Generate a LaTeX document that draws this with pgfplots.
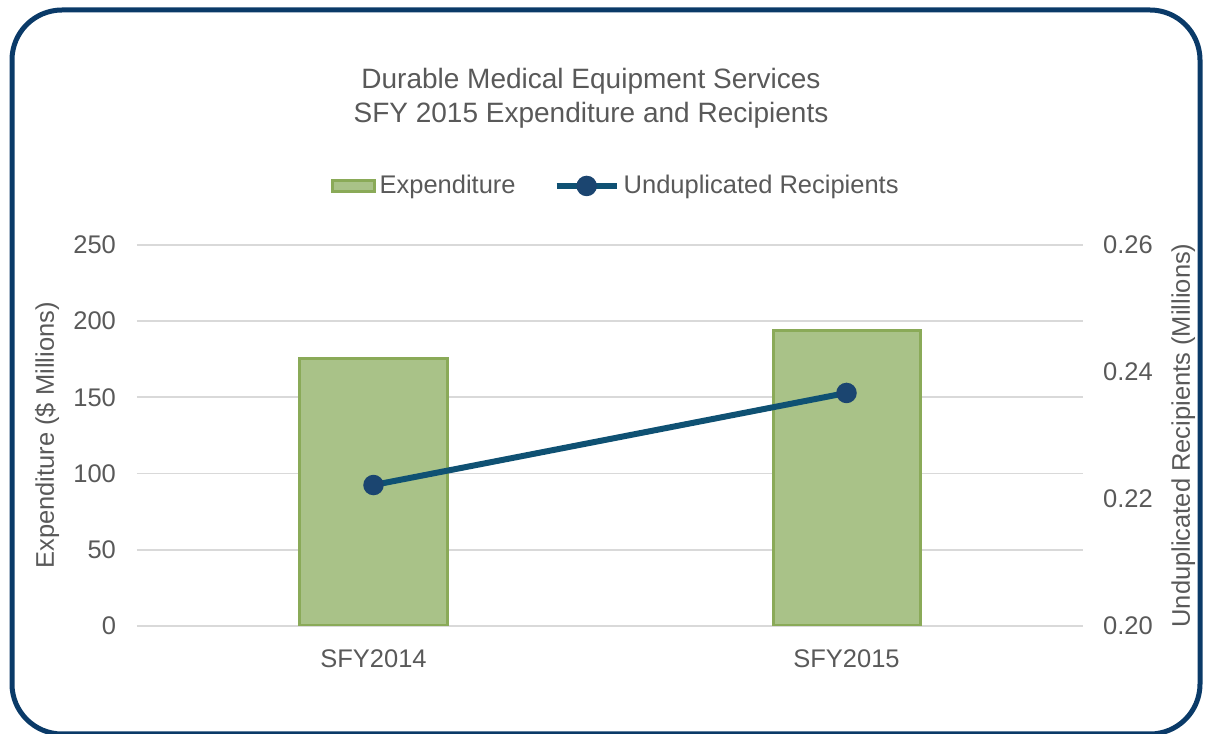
\documentclass[border=0pt]{standalone}
\usepackage{fontspec}
\setmainfont{Liberation Sans}
\usepackage{pgfplots}
\pgfplotsset{compat=1.18}
\definecolor{txt}{HTML}{595959}
\definecolor{gridc}{HTML}{D9D9D9}
\definecolor{barfill}{HTML}{A9C288}
\definecolor{baredge}{HTML}{8AAA58}
\definecolor{linec}{HTML}{0F5173}
\definecolor{markc}{HTML}{1B4570}
\definecolor{framec}{HTML}{0A3A68}
\newcommand{\fs}{\fontsize{12.75}{15}\selectfont}
\newcommand{\ft}{\fontsize{14}{17}\selectfont}
\begin{document}
\begin{tikzpicture}
\useasboundingbox (0pt,0pt) rectangle (603pt,367pt);
\draw[framec, line width=2.5pt, rounded corners=25pt] (6pt,0pt) rectangle (600pt,362pt);
\node[text=txt, font=\ft] at (295.5pt,326.5pt) {Durable Medical Equipment Services};
\node[text=txt, font=\ft] at (295.5pt,309.5pt) {SFY 2015 Expenditure and Recipients};
\begin{axis}[
  at={(68.5pt,54pt)}, anchor=south west,
  width=473pt, height=190.5pt, scale only axis,
  xmin=-0.5, xmax=1.5, ymin=0, ymax=250,
  ytick={0,50,...,250},
  xtick={0,1}, xticklabels={SFY2014,SFY2015},
  axis line style={draw=none},
  tick style={draw=none},
  ymajorgrids, grid style={gridc, line width=0.9pt},
  ticklabel style={font=\fs, text=txt},
  /pgf/number format/assume math mode=true,
  yticklabel style={xshift=-7pt},
  xticklabel style={yshift=-8.5pt},
  ylabel={Expenditure (\$ Millions)},
  ylabel style={at={(rel axis cs:-0.095,0.5)}, anchor=center, font=\fs, text=txt},
]
\addplot[ybar, bar width=73.5pt, bar shift=0pt, fill=barfill, draw=baredge, line width=1.5pt]
  coordinates {(0,175.2) (1,193.6)};
\end{axis}
\begin{axis}[
  at={(68.5pt,54pt)}, anchor=south west,
  width=473pt, height=190.5pt, scale only axis,
  xmin=-0.5, xmax=1.5, ymin=0.2, ymax=0.26,
  ytick={0.20,0.22,0.24,0.26},
  axis y line*=right, hide x axis,
  axis line style={draw=none},
  tick style={draw=none},
  ticklabel style={font=\fs, text=txt},
  /pgf/number format/assume math mode=true,
  yticklabel style={/pgf/number format/fixed, /pgf/number format/fixed zerofill, /pgf/number format/precision=2, xshift=6.5pt},
  ylabel={Unduplicated Recipients (Millions)},
  ylabel style={at={(rel axis cs:1.106,0.5)}, anchor=center, rotate=0, font=\fs, text=txt},
  legend style={at={(rel axis cs:0.507,1.155)}, anchor=center, draw=none, fill=none,
    legend columns=2, font=\fs, text=txt,
    /tikz/every even column/.append style={column sep=17pt}},
]
\addlegendimage{legend image code/.code={\draw[fill=barfill, draw=baredge, line width=1.5pt] (0pt,-2.75pt) rectangle (21pt,2.75pt);}}
\addlegendentry{Expenditure}
\addplot[linec, line width=3pt, mark=*, mark size=3.6pt, mark options={fill=markc, draw=markc},
  legend image code/.code={\draw[linec, line width=3pt] (0pt,0pt) -- (30pt,0pt); \fill[markc] (15pt,0pt) circle (3.6pt);}]
  coordinates {(0,0.2222) (1,0.2367)};
\addlegendentry{Unduplicated Recipients}
\end{axis}
\end{tikzpicture}
\end{document}
